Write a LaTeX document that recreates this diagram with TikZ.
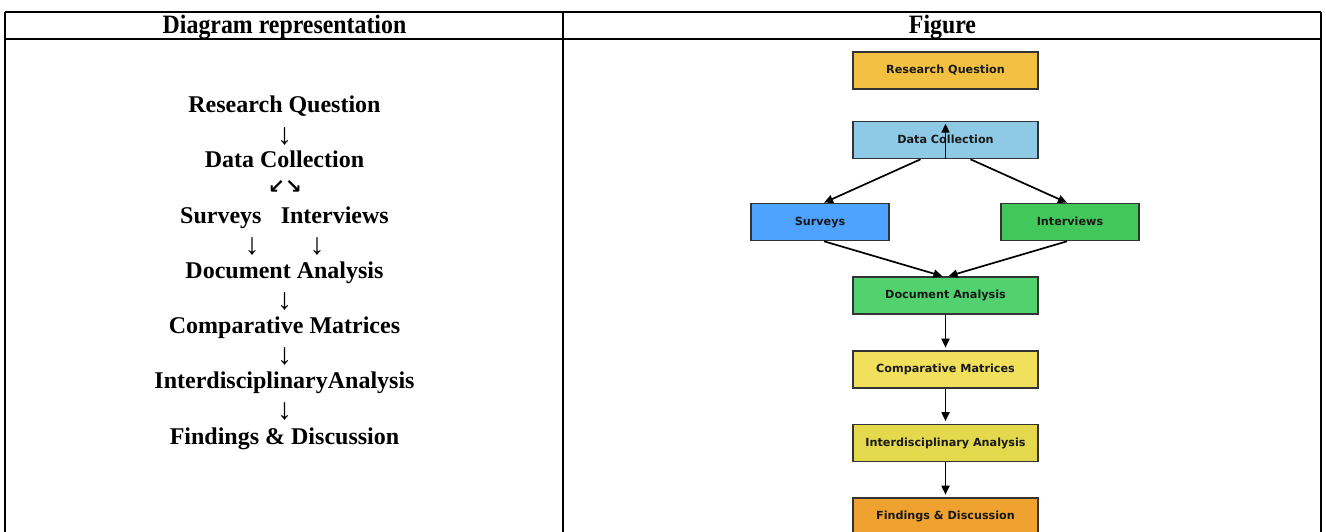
\documentclass[tikz,border=0pt]{standalone}
\usepackage{fontspec}
\setmainfont{Liberation Serif}
\newfontfamily\djsans{DejaVu Sans}
\usetikzlibrary{arrows.meta}
\definecolor{cRQ}{RGB}{242,193,66}
\definecolor{cDC}{RGB}{142,201,230}
\definecolor{cSV}{RGB}{77,163,255}
\definecolor{cIV}{RGB}{66,200,90}
\definecolor{cDA}{RGB}{82,210,110}
\definecolor{cCM}{RGB}{240,224,92}
\definecolor{cID}{RGB}{228,216,76}
\definecolor{cFD}{RGB}{240,162,48}
\tikzset{
  tline/.style={line width=1.5pt,black},
  ltext/.style={anchor=base,inner sep=0pt,font=\fontsize{24}{28}\selectfont\bfseries},
  larrow/.style={inner sep=0pt,font=\fontsize{30}{32}\selectfont},
  hdr/.style={anchor=base,inner sep=0pt},
  fbox/.style={draw=black!80,line width=1.6pt,minimum width=185pt,minimum height=37pt,inner sep=0pt,
    text height=8.5pt,text depth=2.3pt,
    text=black!90,font=\djsans\fontsize{11.2}{13}\selectfont\bfseries},
  arr/.style={line width=1.7pt,black,-{Stealth[length=9pt,width=8pt,inset=0pt]}}
}
\begin{document}
\begin{tikzpicture}[x=1pt,y=-1pt]
\clip (0,0) rectangle (1326,532);
\fill[white] (0,0) rectangle (1326,532);
% table
\draw[tline] (5,12) -- (1321,12);
\draw[tline] (5,39) -- (1321,39);
\draw[tline] (5,12) -- (5,540);
\draw[tline] (563,12) -- (563,540);
\draw[tline] (1321,12) -- (1321,540);
\node[hdr] (h1) at (284.5,33.5) {\scalebox{0.9}[1]{\fontsize{26.5}{28}\selectfont\bfseries Diagram representation}};
\node[hdr] (h2) at (942.5,33.5) {\scalebox{0.9}[1]{\fontsize{26.5}{28}\selectfont\bfseries Figure}};
% left column
\node[ltext] (l1) at (284.5,113) {Research Question};
\node[larrow] (a1) at (284.5,136.5) {↓};
\node[ltext] (l2) at (284.5,167.5) {Data Collection};
\node[inner sep=0pt,font=\djsans\fontsize{20}{22}\selectfont\bfseries] (a2) at (285,187.5) {↙↘};
\node[ltext] (l3) at (284.5,223) {Surveys\hspace{0.8em}Interviews};
\node[larrow] (a3) at (252,246.5) {↓};
\node[larrow] (a4) at (317,246.5) {↓};
\node[ltext] (l4) at (284.5,278.5) {Document Analysis};
\node[larrow] (a5) at (284.5,302) {↓};
\node[ltext] (l5) at (284.5,333) {Comparative Matrices};
\node[larrow] (a6) at (284.5,356.5) {↓};
\node[ltext] (l6) at (284.5,388.5) {InterdisciplinaryAnalysis};
\node[larrow] (a7) at (284.5,412) {↓};
\node[ltext] (l7) at (284.5,444) {Findings \& Discussion};
% right figure
\node[fbox,fill=cRQ] (rq) at (945.5,70.5) {Research Question};
\node[fbox,fill=cDC] (dc) at (945.5,140) {Data Collection};
\node[fbox,fill=cSV,minimum width=138pt] (sv) at (820,222) {Surveys};
\node[fbox,fill=cIV,minimum width=138pt] (iv) at (1070,222) {Interviews};
\node[fbox,fill=cDA] (da) at (945.5,295.5) {Document Analysis};
\node[fbox,fill=cCM] (cm) at (945.5,369.5) {Comparative Matrices};
\node[fbox,fill=cID] (id) at (945.5,443) {Interdisciplinary Analysis};
\node[fbox,fill=cFD] (fd) at (945.5,516.5) {Findings \& Discussion};
\draw[arr] (dc.south) -- ([yshift=-3pt]dc.north);
\draw[arr] ([xshift=-25pt]dc.south) -- ([xshift=4pt]sv.north);
\draw[arr] ([xshift=25pt]dc.south) -- ([xshift=-3pt]iv.north);
\draw[arr] ([xshift=4pt]sv.south) -- ([xshift=-3pt]da.north);
\draw[arr] ([xshift=-3pt]iv.south) -- ([xshift=3pt]da.north);
\draw[arr,shorten >=2.5pt] (da.south) -- (cm.north);
\draw[arr,shorten >=2.5pt] (cm.south) -- (id.north);
\draw[arr,shorten >=2.5pt] (id.south) -- (fd.north);
\end{tikzpicture}
\end{document}
